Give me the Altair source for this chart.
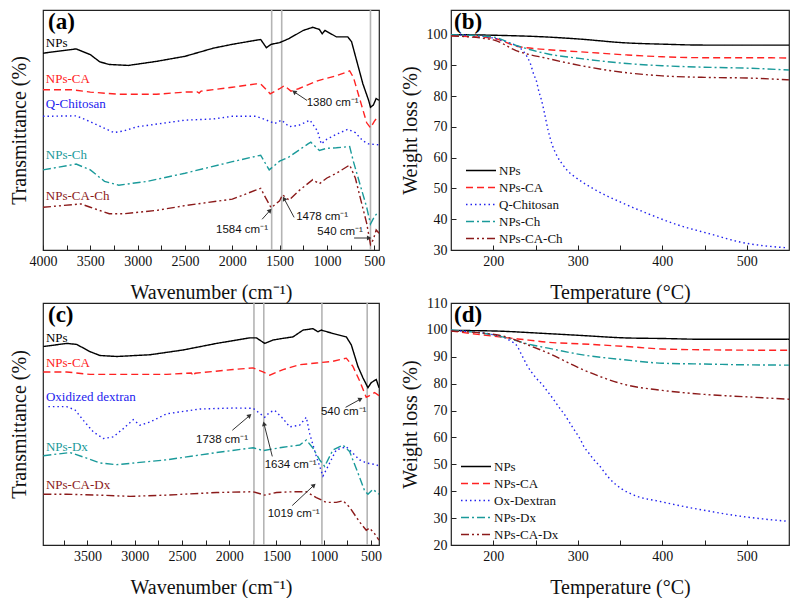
import altair as alt
import pandas as pd

SERIF = "Liberation Serif"
SANS = "Liberation Sans"
COLORS = ["#000000", "#ff2222", "#2222ee", "#1a9a9a", "#8b1a1a"]
DASHES = [[1, 0], [7, 4], [1.5, 3], [8, 3, 2, 3], [8, 3, 2, 3, 2, 3]]

# ---------------- (a) FTIR ----------------
A_NAMES = ["NPs", "NPs-CA", "Q-Chitosan", "NPs-Ch", "NPs-CA-Ch"]
A_NPS_W = [4000, 3650, 3500, 3400, 3300, 3100, 2800, 2500, 2200, 2000, 1750, 1700, 1640, 1590, 1500, 1400, 1250, 1150, 1080, 1050, 1020, 900, 780, 740, 680, 620, 560, 540, 510, 480, 450]
A_NPS_V = [82.0, 83.8, 81.4, 78.4, 77.3, 76.9, 78.6, 80.7, 84.1, 85.7, 87.4, 87.7, 84.3, 85.7, 86.4, 88.1, 91.5, 92.8, 91.9, 90.1, 91.5, 88.8, 88.8, 86.8, 78.0, 69.2, 62.4, 59.5, 60.4, 63.1, 62.4]
A_CA_W = [4000, 3700, 3500, 3200, 2800, 2500, 2370, 2350, 2330, 2000, 1750, 1700, 1650, 1600, 1500, 1450, 1380, 1300, 1100, 900, 760, 720, 640, 580, 540, 500, 460]
A_CA_V = [66.8, 66.8, 65.8, 64.9, 64.9, 65.8, 65.9, 65.4, 66.2, 67.8, 69.2, 69.2, 67.2, 65.1, 67.2, 68.5, 66.2, 67.2, 70.5, 72.6, 74.6, 71.9, 61.1, 53.0, 50.9, 53.6, 55.7]
A_QC_W = [4000, 3650, 3550, 3400, 3250, 3150, 3000, 2900, 2700, 2500, 2200, 2000, 1750, 1650, 1550, 1480, 1400, 1300, 1180, 1100, 1060, 1000, 900, 780, 700, 620, 560, 450]
A_QC_V = [55.7, 55.9, 54.3, 51.6, 48.9, 49.6, 51.4, 51.9, 53.0, 54.1, 54.6, 55.7, 55.7, 54.3, 52.7, 54.1, 51.4, 51.9, 54.1, 49.6, 44.2, 46.2, 48.2, 50.3, 48.9, 45.5, 44.2, 43.8]
A_CH_W = [4000, 3650, 3500, 3350, 3200, 2900, 2500, 2000, 1700, 1640, 1610, 1500, 1400, 1200, 1170, 1080, 1000, 900, 760, 720, 640, 580, 540, 500, 460]
A_CH_V = [33.4, 35.8, 33.4, 28.6, 27.0, 28.6, 32.0, 36.8, 39.5, 35.4, 33.4, 37.0, 38.8, 44.2, 44.9, 41.5, 42.4, 42.6, 43.1, 36.8, 25.9, 17.8, 10.8, 13.8, 15.8]
A_CACH_W = [4000, 3600, 3500, 3300, 3150, 2800, 2500, 2000, 1700, 1650, 1590, 1500, 1470, 1400, 1300, 1150, 1080, 1000, 900, 760, 700, 640, 580, 540, 510, 480, 450]
A_CACH_V = [17.8, 19.2, 17.8, 15.1, 15.1, 16.5, 18.5, 21.2, 25.7, 21.9, 17.6, 20.5, 23.0, 20.8, 24.6, 29.3, 27.6, 30.0, 32.0, 35.4, 30.0, 20.5, 11.1, 2.3, 4.3, 8.4, 7.0]
A_LABEL_X = [3970, 3970, 3970, 3970, 3970]
A_LABEL_Y = [86.2, 71.2, 60.7, 39.6, 22.6]
A_VLINES = [1584, 1478, 540]
A_ANN_TEXT = ["1380 cm⁻¹", "1584 cm⁻¹", "1478 cm⁻¹", "540 cm⁻¹"]
A_ANN_TX = [940, 1897, 1051, 861]
A_ANN_TY = [61.1, 8.4, 13.6, 7.6]
A_ARR_X1 = [1210, 1685, 1347, 713]
A_ARR_Y1 = [62.3, 12.8, 13.6, 5.0]
A_ARR_X2 = [1347, 1601, 1453, 554]
A_ARR_Y2 = [65.9, 16.5, 21.4, 5.0]
A_ARR_ANG = [305, 42, 331, 90]

# ---------------- (c) FTIR ----------------
C_NAMES = ["NPs", "NPs-CA", "Oxidized dextran", "NPs-Dx", "NPs-CA-Dx"]
C_NPS_W = [3966, 3720, 3614, 3473, 3367, 3191, 2839, 2486, 2134, 1782, 1712, 1624, 1536, 1430, 1325, 1219, 1113, 1061, 1026, 902, 761, 708, 638, 585, 532, 497, 444, 415]
C_NPS_V = [82.0, 83.3, 82.9, 79.9, 78.3, 77.9, 78.6, 80.6, 83.3, 85.6, 85.6, 83.3, 84.7, 85.4, 86.0, 88.8, 89.4, 88.1, 88.8, 87.4, 86.0, 82.7, 73.8, 69.1, 65.0, 67.1, 68.4, 65.0]
C_CA_W = [3966, 3720, 3473, 3191, 2662, 2400, 2381, 2360, 1958, 1747, 1642, 1571, 1430, 1254, 1078, 902, 761, 691, 620, 550, 515, 462, 415]
C_CA_V = [71.5, 71.5, 70.5, 70.5, 70.5, 71.1, 69.8, 71.0, 72.5, 73.2, 71.5, 70.2, 72.5, 74.5, 75.2, 75.9, 77.2, 73.8, 67.8, 61.0, 61.7, 63.0, 61.7]
C_DX_W = [3913, 3720, 3631, 3543, 3437, 3332, 3226, 3120, 3015, 2944, 2839, 2662, 2310, 1958, 1747, 1624, 1571, 1518, 1430, 1360, 1254, 1184, 1149, 1078, 1008, 955, 867, 761, 691, 620, 550, 444, 415]
C_DX_V = [57.2, 57.2, 55.8, 51.5, 46.7, 44.0, 44.7, 48.1, 51.8, 49.5, 50.8, 54.2, 56.2, 56.6, 56.5, 52.8, 54.9, 55.6, 52.2, 48.8, 49.5, 52.8, 46.1, 36.6, 28.5, 32.5, 39.3, 40.6, 37.9, 35.2, 33.9, 33.2, 32.5]
C_NDX_W = [3966, 3684, 3508, 3367, 3191, 2662, 2134, 1747, 1642, 1430, 1254, 1184, 1113, 1043, 990, 902, 796, 726, 638, 567, 532, 479, 415]
C_NDX_V = [36.9, 38.2, 35.9, 33.9, 33.2, 35.2, 38.2, 40.2, 39.0, 40.4, 41.3, 43.4, 40.0, 35.2, 32.5, 39.3, 41.3, 38.6, 29.8, 22.4, 21.0, 23.0, 21.0]
C_CADX_W = [3966, 3720, 3367, 3050, 2662, 2134, 1747, 1624, 1500, 1325, 1184, 1078, 972, 867, 796, 726, 620, 550, 515, 462, 415]
C_CADX_V = [21.0, 21.0, 20.6, 20.1, 20.6, 21.7, 22.0, 20.6, 21.7, 22.0, 22.0, 19.6, 17.6, 17.6, 18.3, 15.6, 9.5, 6.1, 7.0, 4.7, 2.0]
C_LABEL_X = [3939, 3939, 3939, 3939, 3939]
C_LABEL_Y = [85.4, 75.2, 61.0, 40.6, 24.7]
C_VLINES = [1738, 1634, 1019, 540]
C_ANN_TEXT = ["1738 cm⁻¹", "1634 cm⁻¹", "540 cm⁻¹", "1019 cm⁻¹"]
C_ANN_TX = [2076, 1350, 789, 1318]
C_ANN_TY = [43.4, 33.2, 54.9, 12.9]
C_ARR_X1 = [1967, 1544, 768, 1333]
C_ARR_Y1 = [47.4, 36.6, 56.9, 16.3]
C_ARR_X2 = [1783, 1632, 610, 1103]
C_ARR_Y2 = [53.5, 50.1, 60.3, 24.7]
C_ARR_ANG = [49, 346, 62, 48]

# ---------------- (b) TGA ----------------
B_NAMES = ["NPs", "NPs-CA", "Q-Chitosan", "NPs-Ch", "NPs-CA-Ch"]
B_NPS_T = [150, 200, 265, 300, 358, 400, 450, 550]
B_NPS_V = [100.0, 99.8, 99.2, 98.6, 97.3, 96.9, 96.6, 96.6]
B_CA_T = [150, 200, 227, 265, 304, 358, 400, 450, 500, 550]
B_CA_V = [99.6, 98.8, 96.3, 95.1, 94.4, 93.4, 92.8, 92.5, 92.5, 92.4]
B_QC_T = [150, 180, 200, 219, 231, 238, 244, 248, 251, 254, 257, 261, 265, 270, 276, 282, 288, 297, 321, 352, 383, 418, 457, 492, 548]
B_QC_V = [100.0, 99.6, 98.9, 97.3, 95.8, 93.7, 90.5, 87.0, 85.0, 81.5, 78.8, 74.0, 68.8, 64.0, 60.3, 57.8, 55.7, 53.7, 49.5, 45.4, 41.8, 38.2, 35.2, 32.6, 30.7]
B_CH_T = [150, 200, 227, 265, 304, 358, 400, 450, 500, 550]
B_CH_V = [100.0, 99.2, 96.5, 93.7, 92.2, 90.6, 89.9, 89.4, 89.1, 88.5]
B_CACH_T = [150, 200, 227, 265, 304, 358, 400, 450, 500, 550]
B_CACH_V = [99.6, 98.3, 94.8, 92.2, 89.9, 87.6, 86.6, 86.1, 85.9, 85.3]

# ---------------- (d) TGA ----------------
D_NAMES = ["NPs", "NPs-CA", "Ox-Dextran", "NPs-Dx", "NPs-CA-Dx"]
D_NPS_T = [150, 200, 265, 300, 358, 400, 450, 550]
D_NPS_V = [99.8, 99.6, 98.6, 98.0, 97.0, 96.8, 96.5, 96.5]
D_CA_T = [150, 207, 242, 265, 304, 358, 400, 450, 550]
D_CA_V = [99.6, 97.4, 96.2, 95.4, 94.8, 93.8, 92.9, 92.6, 92.4]
D_OX_T = [150, 200, 220, 228.6, 232.5, 236.4, 240.3, 245.3, 251.2, 258.5, 264.7, 270.5, 277.9, 283.7, 288.7, 293.4, 298.4, 303, 307.3, 312.8, 318.6, 325.6, 336.8, 352.3, 367.8, 398.8, 425.9, 457, 488, 519, 546]
D_OX_V = [99.8, 98.2, 96.0, 93.8, 91.4, 89.0, 86.6, 84.3, 81.9, 79.5, 76.9, 74.5, 71.2, 68.8, 66.4, 64.0, 61.6, 59.3, 56.6, 54.3, 51.9, 49.5, 45.0, 40.8, 38.4, 36.1, 34.3, 32.5, 30.9, 29.7, 28.9]
D_DX_T = [150, 207, 246, 265, 304, 358, 400, 450, 500, 550]
D_DX_V = [100.0, 97.7, 94.4, 93.2, 90.8, 88.8, 87.6, 87.3, 87.0, 86.9]
D_CADX_T = [150, 207, 246, 265, 304, 358, 400, 450, 500, 550]
D_CADX_V = [99.6, 98.0, 93.8, 91.4, 85.5, 79.5, 77.5, 76.0, 75.1, 74.2]

W1, W2, H1, H2 = 336, 338, 240, 242
HSP, VSP = 72, 53


def long_df(names, xs, ys):
    rows = []
    for n, xl, yl in zip(names, xs, ys):
        for xi, yi in zip(xl, yl):
            rows.append({"s": n, "x": xi, "y": yi})
    return pd.DataFrame(rows)


def color_enc(names, legend=None):
    return alt.Color("s:N", scale=alt.Scale(domain=names, range=COLORS), legend=legend)


def dash_enc(names, legend=None):
    return alt.StrokeDash("s:N", scale=alt.Scale(domain=names, range=DASHES), legend=legend)


def tag_layer(tag, dx, dy):
    return alt.Chart(pd.DataFrame({"t": [tag]})).mark_text(
        font=SERIF, fontSize=23, fontWeight="bold", align="left", baseline="middle", color="#000"
    ).encode(x=alt.value(dx), y=alt.value(dy), text="t:N")


def ftir_panel(names, ws, vs, lab_x, lab_y, vlines, ann_text, ann_tx, ann_ty,
               ax1, ay1, ax2, ay2, ang, domain, tag, width, height):
    ticks = []
    t = 4000
    while t >= 500:
        if t <= domain[0]:
            ticks.append(t)
        t -= 250

    def xe(field):
        return alt.X(f"{field}:Q", scale=alt.Scale(domain=domain, nice=False, zero=False),
                     axis=alt.Axis(title="Wavenumber (cm⁻¹)", values=ticks, format="d",
                                   labelExpr="datum.value % 500 == 0 ? datum.label : ''",
                                   offset=-5, tickSize=5, domain=False, grid=False,
                                   labelFlush=False, labelOverlap=False,
                                   labelPadding=4, titlePadding=14))

    def ye(field):
        return alt.Y(f"{field}:Q", scale=alt.Scale(domain=[0, 100], nice=False, zero=False),
                     axis=alt.Axis(title="Transmittance (%)", labels=False, ticks=False,
                                   domain=False, grid=False, titlePadding=14))

    df = long_df(names, ws, vs)
    lines = alt.Chart(df).mark_line(strokeWidth=1.4, clip=True).encode(
        x=xe("x"), y=ye("y"), color=color_enc(names), strokeDash=dash_enc(names)
    )
    vl = alt.Chart(pd.DataFrame({"x": vlines})).mark_rule(color="#b4b4b4", strokeWidth=1.6).encode(x=xe("x"))
    labels = alt.Chart(pd.DataFrame({"s": names, "x": lab_x, "y": lab_y})).mark_text(
        font=SERIF, fontSize=13, align="left", baseline="middle"
    ).encode(x=xe("x"), y=ye("y"), text="s:N", color=color_enc(names))
    ann = alt.Chart(pd.DataFrame({"t": ann_text, "x": ann_tx, "y": ann_ty})).mark_text(
        font=SANS, fontSize=11.5, align="center", baseline="middle", color="#111"
    ).encode(x=xe("x"), y=ye("y"), text="t:N")
    arr_df = pd.DataFrame({"x1": ax1, "y1": ay1, "x2": ax2, "y2": ay2, "ang": ang})
    arrows = alt.Chart(arr_df).mark_rule(color="#333", strokeWidth=1).encode(
        x=xe("x1"), x2="x2:Q", y=ye("y1"), y2="y2:Q")
    heads = alt.Chart(arr_df).mark_point(shape="triangle-up", filled=True, size=26,
                                         color="#333", opacity=1).encode(
        x=xe("x2"), y=ye("y2"), angle=alt.Angle("ang:Q", scale=None))
    return alt.layer(vl, lines, labels, arrows, heads, ann, tag_layer(tag, 5, 12)).properties(
        width=width, height=height)


def tga_panel(names, ts, vs, ydomain, yticks, legx, legy, tag, width, height):
    df = long_df(names, ts, vs)
    leg = alt.Legend(orient="none", legendX=legx, legendY=legy, title=None,
                     symbolType="stroke", symbolSize=900, symbolStrokeWidth=1.5,
                     labelFont=SERIF, labelFontSize=13, labelOffset=2, labelColor="#111",
                     clipHeight=17, rowPadding=0, padding=0)
    x = alt.X("x:Q", scale=alt.Scale(domain=[150, 550], nice=False, zero=False),
              axis=alt.Axis(title="Temperature (°C)", values=[200, 250, 300, 350, 400, 450, 500],
                            labelExpr="datum.value % 100 == 0 ? datum.label : ''",
                            offset=-5, tickSize=5, domain=False, grid=False, labelFlush=False,
                            labelOverlap=False, labelPadding=4, titlePadding=14))
    y = alt.Y("y:Q", scale=alt.Scale(domain=ydomain, nice=False, zero=False),
              axis=alt.Axis(title="Weight loss (%)", values=yticks, format="d", offset=-5,
                            tickSize=5, domain=False, grid=False, labelPadding=4,
                            titlePadding=6))
    lines = alt.Chart(df).mark_line(strokeWidth=1.4, interpolate="monotone", clip=True).encode(
        x=x, y=y, color=color_enc(names, leg), strokeDash=dash_enc(names, leg))
    return alt.layer(lines, tag_layer(tag, 3, 12)).properties(width=width, height=height)


pa = ftir_panel(A_NAMES, [A_NPS_W, A_CA_W, A_QC_W, A_CH_W, A_CACH_W],
                [A_NPS_V, A_CA_V, A_QC_V, A_CH_V, A_CACH_V], A_LABEL_X, A_LABEL_Y, A_VLINES,
                A_ANN_TEXT, A_ANN_TX, A_ANN_TY, A_ARR_X1, A_ARR_Y1, A_ARR_X2, A_ARR_Y2, A_ARR_ANG,
                [4000, 450], "(a)", W1, H1)
pc = ftir_panel(C_NAMES, [C_NPS_W, C_CA_W, C_DX_W, C_NDX_W, C_CADX_W],
                [C_NPS_V, C_CA_V, C_DX_V, C_NDX_V, C_CADX_V], C_LABEL_X, C_LABEL_Y, C_VLINES,
                C_ANN_TEXT, C_ANN_TX, C_ANN_TY, C_ARR_X1, C_ARR_Y1, C_ARR_X2, C_ARR_Y2, C_ARR_ANG,
                [3970, 415], "(c)", W1, H2)
pb = tga_panel(B_NAMES, [B_NPS_T, B_CA_T, B_QC_T, B_CH_T, B_CACH_T],
               [B_NPS_V, B_CA_V, B_QC_V, B_CH_V, B_CACH_V], [30, 108],
               [30, 40, 50, 60, 70, 80, 90, 100], 14, 152, "(b)", W2, H1)
pd_ = tga_panel(D_NAMES, [D_NPS_T, D_CA_T, D_OX_T, D_DX_T, D_CADX_T],
                [D_NPS_V, D_CA_V, D_OX_V, D_DX_V, D_CADX_V], [20, 110],
                [20, 30, 40, 50, 60, 70, 80, 90, 100, 110], 9, 155, "(d)", W2, H2)

res = dict(x="independent", y="independent", color="independent", strokeDash="independent")
chart = alt.concat(pa, pb, pc, pd_, columns=2, spacing={"row": VSP, "column": HSP},
                   bounds="flush").resolve_scale(**res).properties(
    padding=0, background="white"
).configure_view(stroke="#222", strokeWidth=1.2).configure_axis(
    labelFont=SERIF, labelFontSize=14, titleFont=SERIF, titleFontSize=20,
    titleFontWeight="normal", labelColor="#111", titleColor="#111", tickColor="#222", tickWidth=1
)

chart.save("out.html", embed_options={"renderer": "svg", "actions": False})
